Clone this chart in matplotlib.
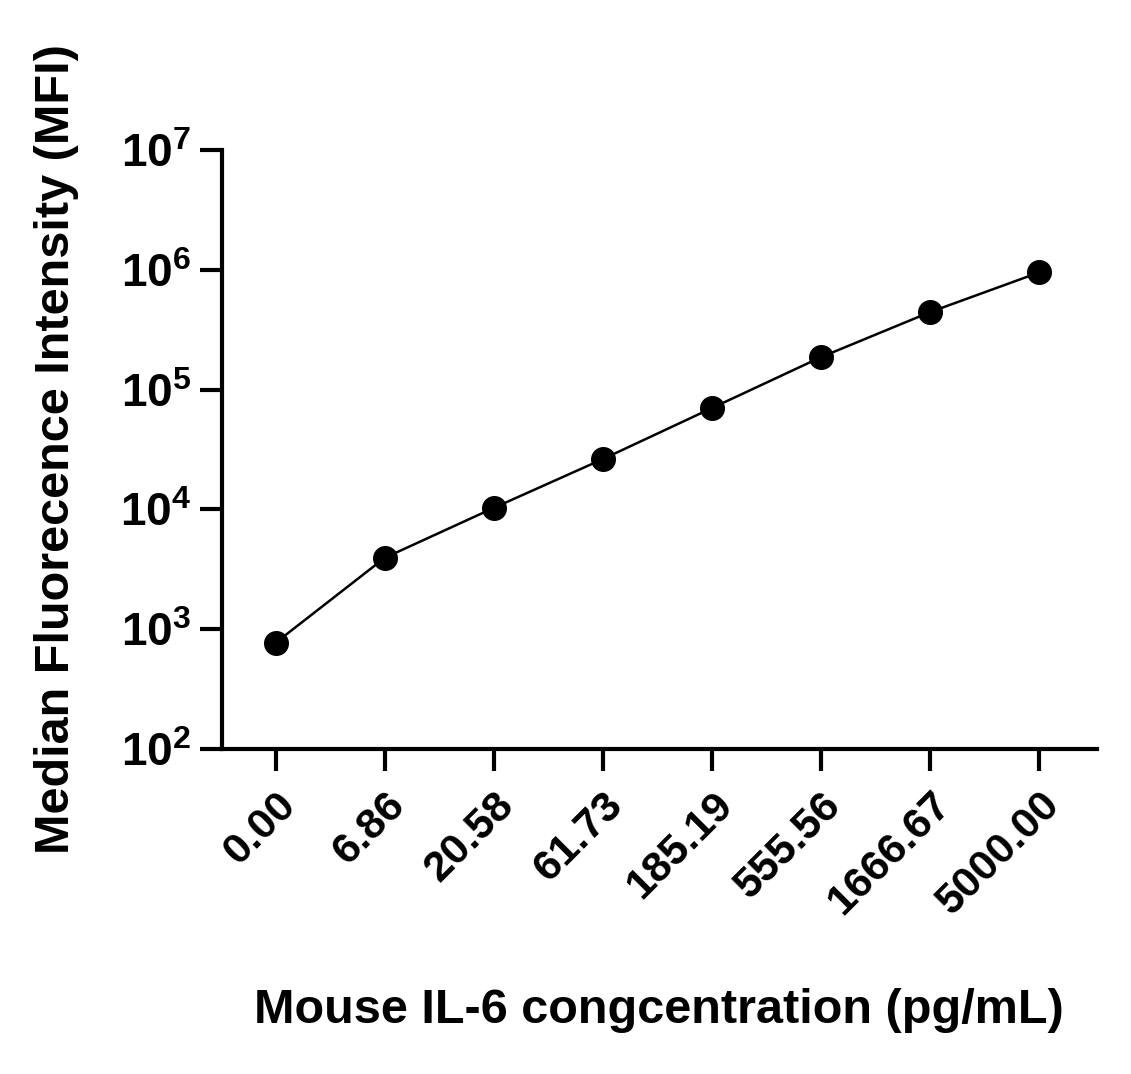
import matplotlib
matplotlib.use("Agg")
import matplotlib.pyplot as plt

categories = ["0.00", "6.86", "20.58", "61.73", "185.19", "555.56", "1666.67", "5000.00"]
mfi = [767, 3930, 10280, 26300, 70200, 187000, 445000, 955000]

plt.rcParams['font.family'] = ['Liberation Sans', 'DejaVu Sans']
plt.rcParams['font.weight'] = 'bold'
fig = plt.figure(figsize=(11.31, 10.74), dpi=100)
ax = fig.add_axes([0.196, 0.303, 0.774, 0.557])
x = list(range(len(categories)))
ax.plot(x, mfi, color='black', lw=1.8, marker='o', ms=17, mfc='black', mec='black')
ax.set_yscale('log')
ax.set_ylim(1e2, 1e7)
ax.set_xlim(-0.495, 7.53)
ax.minorticks_off()
ax.set_xticks(x)
ax.set_xticklabels(categories, rotation=45, ha='right', va='top', rotation_mode='anchor', fontsize=31, fontweight='bold')
ax.set_yticks([1e2, 1e3, 1e4, 1e5, 1e6, 1e7])
ax.tick_params(axis='y', labelsize=33, width=3, length=16, pad=6)
ax.tick_params(axis='x', width=3, length=16, pad=10)
for l in ax.get_yticklabels():
    l.set_fontweight('bold')
for s in ['top', 'right']:
    ax.spines[s].set_visible(False)
for s in ['left', 'bottom']:
    ax.spines[s].set_linewidth(3)
ax.set_ylabel('Median Fluorecence Intensity (MFI)', fontsize=35, fontweight='bold')
ax.yaxis.set_label_coords(-0.163, 0.5)
ax.set_xlabel('Mouse IL-6 congcentration (pg/mL)', fontsize=35, fontweight='bold')
ax.xaxis.set_label_coords(0.5, -0.4)
fig.savefig('out.png', dpi=100)
